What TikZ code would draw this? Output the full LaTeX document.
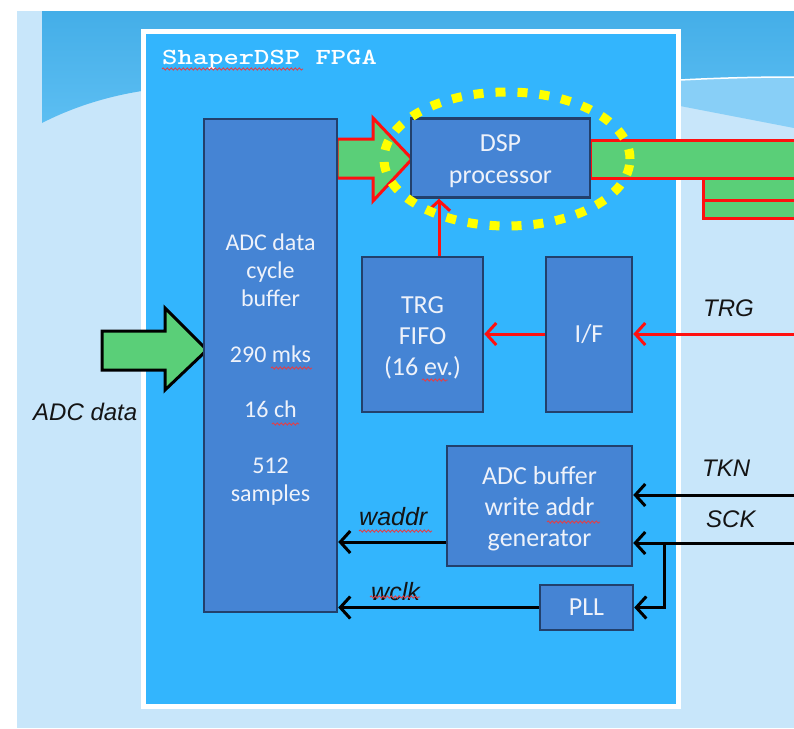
\documentclass[tikz,border=0pt]{standalone}
\usepackage{fontspec}
\setmainfont{Carlito}
\newfontfamily\arialf{Liberation Sans}
\usetikzlibrary{arrows.meta,decorations.pathmorphing,shapes.geometric}
\definecolor{bglight}{HTML}{C8E6FA}
\definecolor{bandtop}{HTML}{44AEE8}
\definecolor{bandbot}{HTML}{5CBEF2}
\definecolor{bandmid}{HTML}{88CFF7}
\definecolor{fpgac}{HTML}{33B5FD}
\definecolor{blk}{HTML}{4584D4}
\definecolor{blkedge}{HTML}{22406C}
\definecolor{blktext}{HTML}{EEF2FA}
\definecolor{grn}{HTML}{5ACF78}
\definecolor{redl}{HTML}{FF1010}
\definecolor{yel}{HTML}{FFFF00}
\definecolor{squig}{HTML}{E0404A}
\definecolor{labc}{HTML}{141414}
\begin{document}
\begin{tikzpicture}[x=1pt,y=-1pt,
 block/.style={draw=blkedge,fill=blk,line width=2.5pt,inner sep=0pt},
 btext/.style={text=blktext,align=center,inner sep=0pt,font=\fontsize{26}{31}\selectfont},
 blackarrow/.style={draw=black,line width=3pt,-{Straight Barb[length=10pt,width=22pt]}},
 redarrow/.style={draw=redl,line width=3pt,-{Straight Barb[length=10pt,width=22pt]}},
 sig/.style={font=\arialf\itshape\fontsize{24}{28}\selectfont,text=labc,inner sep=0pt,anchor=base west},
 squiggle/.style={draw=squig,line width=0.9pt,decorate,decoration={snake,amplitude=1.1pt,segment length=4pt}},
 greenbar/.style={fill=grn,draw=redl,line width=3pt,line join=miter},
]
\useasboundingbox (0,0) rectangle (794,728);
\fill[white] (0,0) rectangle (794,728);
\fill[bglight] (17,11) rectangle (794,728);
\shade[top color=bandtop,bottom color=bandbot] (42,11) -- (794,11) -- (794,77) .. controls (740,77) and (700,79) .. (680,80) -- (142,91) .. controls (110,96) and (75,106) .. (42,123) -- cycle;
\fill[bandmid] (680,80) .. controls (700,79) and (740,77) .. (794,77) -- (794,128) -- (680,106) -- cycle;
\draw[white,line width=1.5pt] (680,80) .. controls (700,79) and (740,77) .. (794,77);

% FPGA frame
\node[draw=white,fill=fpgac,line width=4.5pt,minimum width=535pt,minimum height=675pt,inner sep=0pt] (fpga) at (411,369) {};
\node[text=white,anchor=base west,inner sep=0pt] (title) at (162,64) {\scalebox{1.27}[1]{\fontsize{23}{27}\ttfamily\bfseries ShaperDSP FPGA}};
\draw[squiggle] (162,69) -- (303,69);

% green bars (under blocks)
\draw[greenbar] (703,178) rectangle (800,200);
\draw[greenbar] (703,200) rectangle (800,218);
\draw[greenbar] (590,140) rectangle (800,178);
\draw[greenbar] (337,139) -- (373,139) -- (373,118) -- (412,159) -- (373,201) -- (373,178) -- (337,178) -- cycle;

% ADC data input arrow
\draw[fill=grn,draw=black,line width=3pt,line join=miter] (102,331) -- (165,331) -- (165,308) -- (207,350) -- (165,390) -- (165,370) -- (102,370) -- cycle;

% blocks
\node[block,minimum width=133pt,minimum height=493pt] (buf) at (270.5,365.5) {};
\node[block,minimum width=179pt,minimum height=79pt] (dsp) at (500.5,158) {};
\node[block,minimum width=121pt,minimum height=155pt] (fifo) at (422.5,334.5) {};
\node[block,minimum width=86pt,minimum height=155pt] (intf) at (589,334.5) {};
\node[block,minimum width=185pt,minimum height=120pt] (gen) at (539.5,506) {};
\node[block,minimum width=93pt,minimum height=45pt] (pll) at (586.5,607.5) {};

\node[btext,font=\fontsize{24}{27.8}\selectfont] (bufT) at ([yshift=-4pt]buf.center) {ADC data\\cycle\\buffer\\[27.8pt]290 mks\\[27.8pt]16 ch\\[27.8pt]512\\samples};
\node[btext,font=\fontsize{26}{32}\selectfont] (dspT) at ([yshift=-3pt]dsp.center) {DSP\\processor};
\node[btext] (fifoT) at ([yshift=-3pt]fifo.center) {TRG\\FIFO\\(16 ev.)};
\node[btext] (intfT) at (intf.center) {I/F};
\node[btext,font=\fontsize{26}{31}\selectfont] (genT) at ([yshift=-3pt]gen.center) {ADC buffer\\write addr\\generator};
\node[btext] (pllT) at (pll.center) {PLL};

% spell squiggles inside blocks
\draw[squiggle] (271,368) -- (312,368);
\draw[squiggle] (272,424) -- (299,424);
\draw[squiggle] (422,380) -- (448,380);
\draw[squiggle] (547,522) -- (600,522);

% red trigger path
\coordinate (trgR) at (800,334);
\draw[redarrow] (trgR) -- (intf.east |- trgR);
\draw[redarrow] (intf.west |- trgR) -- (fifo.east |- trgR);
\draw[redarrow] ([xshift=16.5pt]fifo.north) -- ([xshift=16.5pt]fifo.north |- dsp.south);

% black signals
\coordinate (tknR) at (800,495);
\coordinate (sckR) at (800,543);
\coordinate (br) at (664,543);
\coordinate (wa) at (0,542);
\draw[blackarrow] (tknR) -- (tknR -| gen.east);
\draw[blackarrow] (sckR) -- (sckR -| gen.east);
\draw[blackarrow] (br) |- (pll.east);
\draw[blackarrow] (gen.west |- wa) -- (buf.east |- wa);
\draw[blackarrow] (pll.west) -- (buf.east |- pll.west);

% labels
\node[sig] (trgL) at (703,316) {TRG};
\node[sig] (tknL) at (702,476) {TKN};
\node[sig] (sckL) at (706,527) {SCK};
\node[sig] (adcL) at (33,420) {ADC data};
\node[sig,font=\arialf\itshape\fontsize{25}{28}\selectfont] (waL) at (359,525) {waddr};
\node[sig,font=\arialf\itshape\fontsize{25}{28}\selectfont] (wcL) at (371,600) {wclk};
\draw[squiggle] (359,531) -- (432,531);
\draw[squiggle] (370,597) -- (420,597);

% highlight ellipse
\node[ellipse,draw=yel,line width=9pt,dash pattern=on 10pt off 12pt,minimum width=246pt,minimum height=134pt,inner sep=0pt] (hl) at (507,159) {};
\end{tikzpicture}
\end{document}
